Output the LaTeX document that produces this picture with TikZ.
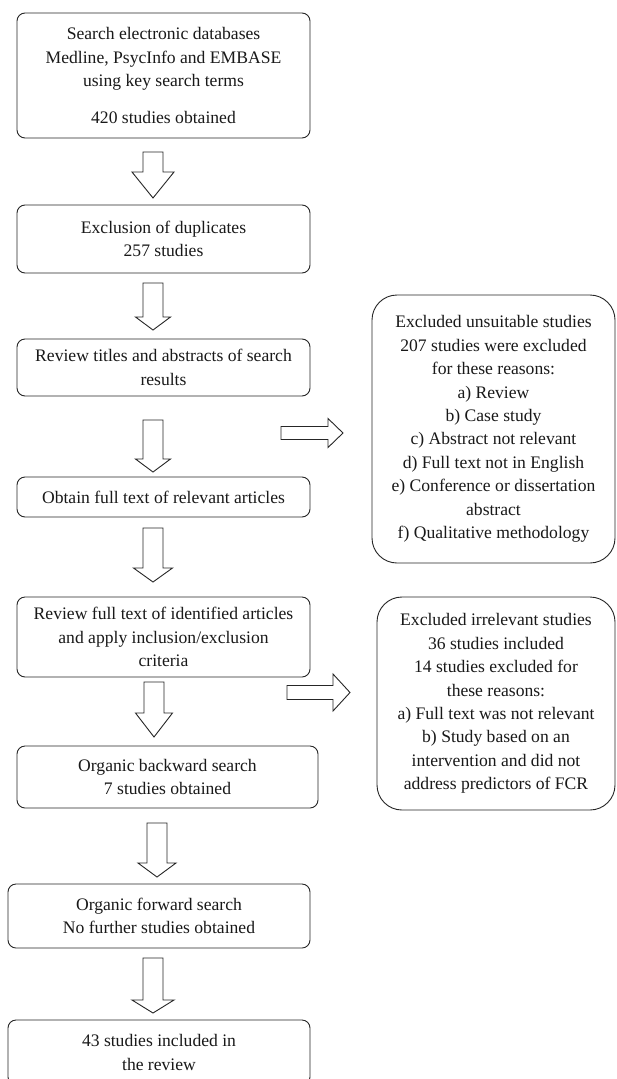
\documentclass[tikz,border=0pt]{standalone}
\usepackage{fontspec}
\setmainfont{Liberation Serif}
\newcommand{\DownBlock}[7]{% name, cx, shaft top, head start, tip, shaft half, head half
  \coordinate (#1) at (#2,#5);
  \draw[blockarrow] (#2-#6,#3) -- (#2+#6,#3) -- (#2+#6,#4) -- (#2+#7,#4) -- (#1) -- (#2-#7,#4) -- (#2-#6,#4) -- cycle;}
\newcommand{\RightBlock}[7]{% name, cy, shaft left, head start, tip, shaft half, head half
  \coordinate (#1) at (#5,#2);
  \draw[blockarrow] (#3,#2-#6) -- (#4,#2-#6) -- (#4,#2-#7) -- (#1) -- (#4,#2+#7) -- (#4,#2+#6) -- (#3,#2+#6) -- cycle;}
\begin{document}
\begin{tikzpicture}[x=1pt,y=-1pt,
  box/.style={draw=black!85, line width=0.9pt, rounded corners=8pt, align=center, inner sep=0pt,
    font=\fontsize{17.6}{23.4}\selectfont, text=black!90},
  sidebox/.style={box, rounded corners=25pt},
  blockarrow/.style={draw=black!85, line width=0.9pt, fill=white, line join=miter}]
\useasboundingbox (0,0) rectangle (616,1079);
\clip (0,0) rectangle (616,1079);
\fill[white] (0,0) rectangle (616,1079);

\node[box, minimum width=293pt, minimum height=125pt] (b1) at (163.5,75.5)
  {Search electronic databases\\Medline, PsycInfo and EMBASE\\using key search terms\\[13.6pt]420 studies obtained};
\node[box, minimum width=293pt, minimum height=68pt] (b2) at (163.5,239)
  {Exclusion of duplicates\\257 studies};
\node[box, minimum width=293pt, minimum height=57pt] (b3) at (163.5,367.5)
  {Review titles and abstracts of search\\results};
\node[box, minimum width=293pt, minimum height=40pt] (b4) at (163.5,497)
  {Obtain full text of relevant articles};
\node[box, minimum width=293pt, minimum height=80pt] (b5) at (163.5,637)
  {Review full text of identified articles\\and apply inclusion/exclusion\\criteria};
\node[box, minimum width=301pt, minimum height=62pt] (b6) at (167.5,777)
  {Organic backward search\\7 studies obtained};
\node[box, minimum width=302pt, minimum height=64pt] (b7) at (159,916)
  {Organic forward search\\No further studies obtained};
\node[box, minimum width=302pt, minimum height=65pt] (b8) at (159,1052.5)
  {43 studies included in\\the review};

\node[sidebox, minimum width=243pt, minimum height=268pt] (r1) at (493.5,429)
  {Excluded unsuitable studies\\207 studies were excluded\\for these reasons:\\a) Review\\b) Case study\\c) Abstract not relevant\\d) Full text not in English\\e) Conference or dissertation\\abstract\\f) Qualitative methodology};
\node[sidebox, minimum width=238pt, minimum height=213pt] (r2) at (496,703.5)
  {Excluded irrelevant studies\\36 studies included\\14 studies excluded for\\these reasons:\\a) Full text was not relevant\\b) Study based on an\\intervention and did not\\address predictors of FCR};

\DownBlock{a1}{153}{152}{172}{198}{10}{21}
\DownBlock{a2}{153}{283}{317}{330}{10}{17.5}
\DownBlock{a3}{153}{420}{459}{472}{10}{17.5}
\DownBlock{a4}{153}{528}{568}{582}{10}{19.5}
\DownBlock{a5}{154}{682}{713}{737}{10}{18.5}
\DownBlock{a6}{157}{823}{863}{877}{10}{19}
\DownBlock{a7}{153}{958}{1000}{1013}{10}{21}

\RightBlock{ra1}{433}{281}{328}{343}{6.5}{14.5}
\RightBlock{ra2}{692.5}{287}{333}{350}{7}{18.5}
\end{tikzpicture}
\end{document}
